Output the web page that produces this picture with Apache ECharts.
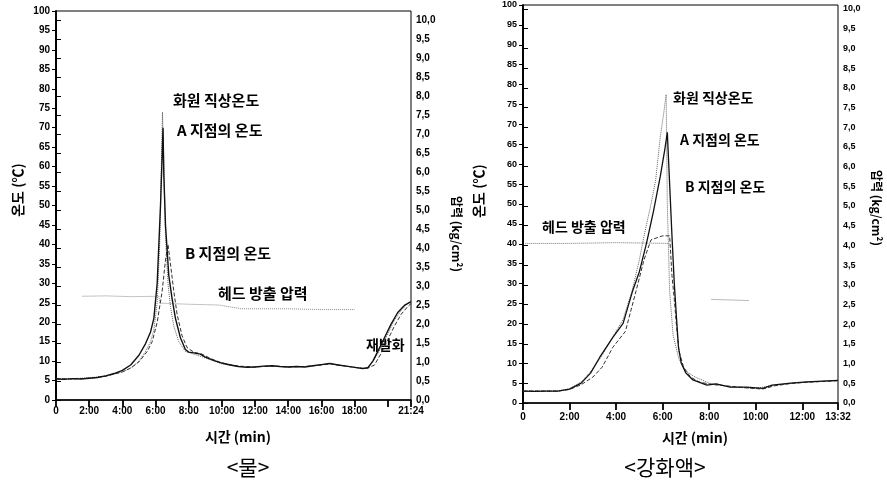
<!DOCTYPE html>
<html>
<head>
<meta charset="utf-8">
<script src="https://cdn.jsdelivr.net/npm/echarts@6/dist/echarts.min.js"></script>
<style>
html,body{margin:0;padding:0;background:#fff;}
#c{width:887px;height:481px;}
</style>
</head>
<body>
<div id="c"></div>
<script>
// ---- data (time in minutes, temperature in ℃, pressure in kg/cm²) ----
const waterTimeMax = 1284 / 60;   // 21:24
const agentTimeMax = 812 / 60;    // 13:32

const waterFireTemp = [[0,5.5],[1,5.5],[2,5.7],[3,6.2],[4,7.2],[4.6,8.5],[5.0,10],[5.4,12.5],[5.7,15],[5.9,18],[6.1,25],[6.25,40],[6.35,60],[6.42,74],[6.5,60],[6.6,42],[6.75,30],[6.9,24],[7.1,19],[7.4,15],[7.8,12.5],[8.3,11.8],[9,10.8],[10,9.3],[11,8.6],[12,8.5],[13,8.8],[14,8.5],[15,8.6],[16,9.1],[16.5,9.3],[17.5,8.7],[18.5,8.1],[18.8,8.3],[19.2,10.5],[19.6,13.5],[20,17],[20.4,20.5],[20.8,23],[21.2,24.8],[21.4,25.3]];
const waterPointA = [[0,5.4],[0.5,5.3],[1,5.5],[1.5,5.4],[2,5.6],[2.5,5.8],[3,6.2],[3.5,6.8],[4,7.6],[4.5,9],[5.0,11.5],[5.4,14.5],[5.7,17.5],[5.9,21],[6.1,30],[6.3,50],[6.4,63],[6.45,70],[6.5,58],[6.6,45],[6.8,32],[7.0,26],[7.2,21],[7.5,16],[7.8,13],[8.0,12.3],[8.3,12.1],[8.7,11.8],[9.0,11],[9.5,10.2],[10,9.5],[10.5,9],[11,8.6],[11.5,8.4],[12,8.5],[12.5,8.7],[13,8.8],[13.5,8.6],[14,8.5],[14.5,8.6],[15,8.5],[15.5,8.8],[16,9.1],[16.5,9.4],[17,9],[17.5,8.7],[18,8.4],[18.5,8.1],[18.8,8.3],[19.1,10],[19.4,12.5],[19.8,16],[20.2,19.5],[20.6,22.5],[21.0,24.3],[21.4,25.3]];
const waterPointB = [[0,5.5],[1,5.4],[2,5.6],[3,6.1],[4,7.2],[4.5,8.2],[5,9.8],[5.5,12.5],[5.8,15],[6.1,20],[6.4,28],[6.6,36],[6.75,40],[6.9,35],[7.1,28],[7.3,22],[7.6,16.5],[7.9,13.5],[8.3,12.3],[8.8,11.8],[9.3,10.7],[10,9.5],[11,8.7],[12,8.5],[13,8.7],[14,8.5],[15,8.6],[16,9.0],[16.5,9.3],[17.5,8.7],[18.5,8.1],[18.8,8.2],[19.2,9],[19.6,12],[20,15.5],[20.4,19],[20.8,22],[21.2,24],[21.4,24.8]];
const waterPressure = [[1.6,2.73],[3,2.74],[4.5,2.72],[6.2,2.73],[6.25,2.55],[8,2.52],[9.8,2.5],[11.2,2.4],[14,2.4],[16,2.38],[18,2.38]];

const agentFireTemp = [[0,3],[0.5,3],[1,3],[1.5,3],[2,3.6],[2.5,5.3],[3,8.5],[3.4,12],[3.9,17],[4.3,21],[4.7,28.5],[5.0,36],[5.2,42],[5.5,50],[5.7,56],[5.9,67],[6.05,73],[6.15,77.5],[6.2,50],[6.3,28],[6.45,17],[6.7,11],[7,8],[7.4,6.5],[8,5],[9,4],[10,3.7],[11,4.6],[12,5.2],[13.53,5.6]];
const agentPointA = [[0,3],[0.5,2.9],[1,3],[1.5,3],[2,3.5],[2.5,5],[2.9,7.5],[3.3,11.5],[3.86,16.5],[4.3,20],[4.7,28],[5.0,33],[5.3,40],[5.6,48],[5.9,57],[6.1,64],[6.2,68],[6.3,55],[6.4,42],[6.5,30],[6.6,21],[6.68,14],[6.8,10],[7.0,7.5],[7.3,5.8],[7.9,4.5],[8.3,4.8],[8.9,4],[9.6,4],[10.3,3.7],[10.7,4.5],[11.5,5],[12.2,5.3],[13.53,5.7]];
const agentPointB = [[0,3],[1.5,3],[2,3.4],[2.5,4.6],[3,6.5],[3.4,9],[3.86,14],[4.4,18],[4.85,28],[5.2,36],[5.5,41],[6.0,42],[6.3,42],[6.4,32],[6.5,26],[6.6,19],[6.7,13],[6.9,9],[7.2,6.5],[7.6,5.2],[8.2,4.6],[8.9,4.2],[9.6,3.8],[10.3,3.5],[10.8,4.3],[11.5,4.9],[12.2,5.2],[13.53,5.6]];
const agentPressure = [[0.1,4.05],[2,4.05],[4,4.07],[6.3,4.05],[7,'-'],[8.1,2.63],[9.7,2.6]];

const seriesNames = ['화원 직상온도','A 지점의 온도','B 지점의 온도','헤드 방출 압력'];

// ---- helpers ----
const NUM_FONT = '"Liberation Sans", Arial, sans-serif';
const KR_FONT = '"Noto Sans CJK KR", sans-serif';
function timeLabel(v){
  if (Math.abs(v) < 1e-9) return '0';
  const sec = Math.round(v*60);
  const m = Math.floor(sec/60), s = sec % 60;
  return m + ':' + (s<10?'0':'') + s;
}
function pLabel(v){ return v.toFixed(1).replace('.', ','); }

function xAxisCfg(gi, max, fs, skip20, margin){
  return {
    type:'value', gridIndex:gi, min:0, max:max, interval:2,
    axisLine:{show:true, lineStyle:{color:'#000', width:1.5}},
    axisTick:{show:true, inside:false, length:7, lineStyle:{color:'#000', width:1.8}},
    axisLabel:{color:'#000', fontFamily:NUM_FONT, fontWeight:'bold', fontSize:fs, margin:margin,
      formatter:function(v){ if (skip20 && Math.abs(v-20)<1e-9) return ''; return timeLabel(v);} },
    splitLine:{show:false}
  };
}
function hiddenX(gi, max){
  return {type:'value', gridIndex:gi, min:0, max:max, show:false, splitLine:{show:false}};
}
function tempY(gi, fs){
  return {
    type:'value', gridIndex:gi, min:0, max:100, interval:5, position:'left',
    axisLine:{show:true, lineStyle:{color:'#000', width:1.8}},
    axisTick:{show:true, length:4, lineStyle:{color:'#000'}},
    axisLabel:{color:'#000', fontFamily:NUM_FONT, fontWeight:'bold', fontSize:fs, margin:6},
    splitLine:{show:false}
  };
}
function presY(gi, fs){
  return {
    type:'value', gridIndex:gi, min:0, max:10, interval:0.5, position:'right',
    axisLine:{show:true, lineStyle:{color:'#000', width:1.8}},
    axisTick:{show:true, length:5, lineStyle:{color:'#000'}},
    axisLabel:{color:'#000', fontFamily:NUM_FONT, fontWeight:'bold', fontSize:fs, margin:5, formatter:pLabel},
    splitLine:{show:false}
  };
}
function line(name, data, xi, yi, type, color, width){
  return {name:name, type:'line', xAxisIndex:xi, yAxisIndex:yi, data:data, symbol:'none',
    connectNulls:false, lineStyle:{type:type, color:color, width:width}, z:3};
}
function txt(x, y, text, fs){
  return {type:'text', x:x, y:y, silent:true,
    style:{text:text, fill:'#000', font:'bold ' + fs + 'px ' + KR_FONT, textAlign:'left', textVerticalAlign:'middle'}};
}
function rtxt(x, y, text, fs, rot, weight){
  return {type:'text', x:x, y:y, rotation:rot, silent:true,
    style:{text:text, fill:'#000', font:(weight||'bold') + ' ' + fs + 'px ' + KR_FONT, textAlign:'center', textVerticalAlign:'middle'}};
}

const chart = echarts.init(document.getElementById('c'), null, {renderer:'canvas'});
chart.setOption({
  animation:false,
  backgroundColor:'#fff',
  grid:[
    {left:56, right:476, top:11, bottom:81, show:true, borderColor:'#000', borderWidth:1},
    {left:56, right:476, top:20, bottom:81, show:false},
    {left:523, right:49, top:5, bottom:78, show:true, borderColor:'#000', borderWidth:1},
    {left:523, right:49, top:9, bottom:78, show:false}
  ],
  xAxis:[
    xAxisCfg(0, waterTimeMax, 10, true, 6),
    hiddenX(1, waterTimeMax),
    xAxisCfg(2, agentTimeMax, 10, false, 9),
    hiddenX(3, agentTimeMax)
  ],
  yAxis:[
    tempY(0, 10),
    presY(1, 10),
    tempY(2, 9),
    presY(3, 9)
  ],
  series:[
    line(seriesNames[3], waterPressure, 1, 1, 'dotted', '#888', 1),
    line(seriesNames[0], waterFireTemp, 0, 0, 'dotted', '#666', 1),
    line(seriesNames[2], waterPointB, 0, 0, 'dashed', '#333', 1),
    line(seriesNames[1], waterPointA, 0, 0, 'solid', '#111', 1.4),
    line(seriesNames[3], agentPressure, 3, 3, 'dotted', '#777', 1),
    line(seriesNames[0], agentFireTemp, 2, 2, 'dotted', '#666', 1),
    line(seriesNames[2], agentPointB, 2, 2, 'dashed', '#333', 1),
    line(seriesNames[1], agentPointA, 2, 2, 'solid', '#111', 1.3)
  ],
  graphic:[
    // axis names
    rtxt(18, 190, '온도 (℃)', 14, Math.PI/2),
    rtxt(457, 234, '압력 (kg/cm²)', 12, -Math.PI/2),
    rtxt(479, 191, '온도 (℃)', 14, Math.PI/2),
    rtxt(877, 208, '압력 (kg/cm²)', 12, -Math.PI/2),
    rtxt(238, 437, '시간 (min)', 14, 0),
    rtxt(695, 438, '시간 (min)', 14, 0),
    rtxt(248, 467, '<물>', 21, 0, 'normal'),
    rtxt(665, 467, '<강화액>', 21, 0, 'normal'),
    // annotations (left)
    txt(173, 100, '화원 직상온도', 15),
    txt(177, 130, 'A 지점의 온도', 15),
    txt(185, 253, 'B 지점의 온도', 15),
    txt(218, 293, '헤드 방출 압력', 15),
    txt(366, 345, '재발화', 14),
    // annotations (right)
    txt(673, 98, '화원 직상온도', 14),
    txt(680, 140, 'A 지점의 온도', 14),
    txt(685, 187, 'B 지점의 온도', 14),
    txt(542, 227, '헤드 방출 압력', 14)
  ]
});
</script>
</body>
</html>
